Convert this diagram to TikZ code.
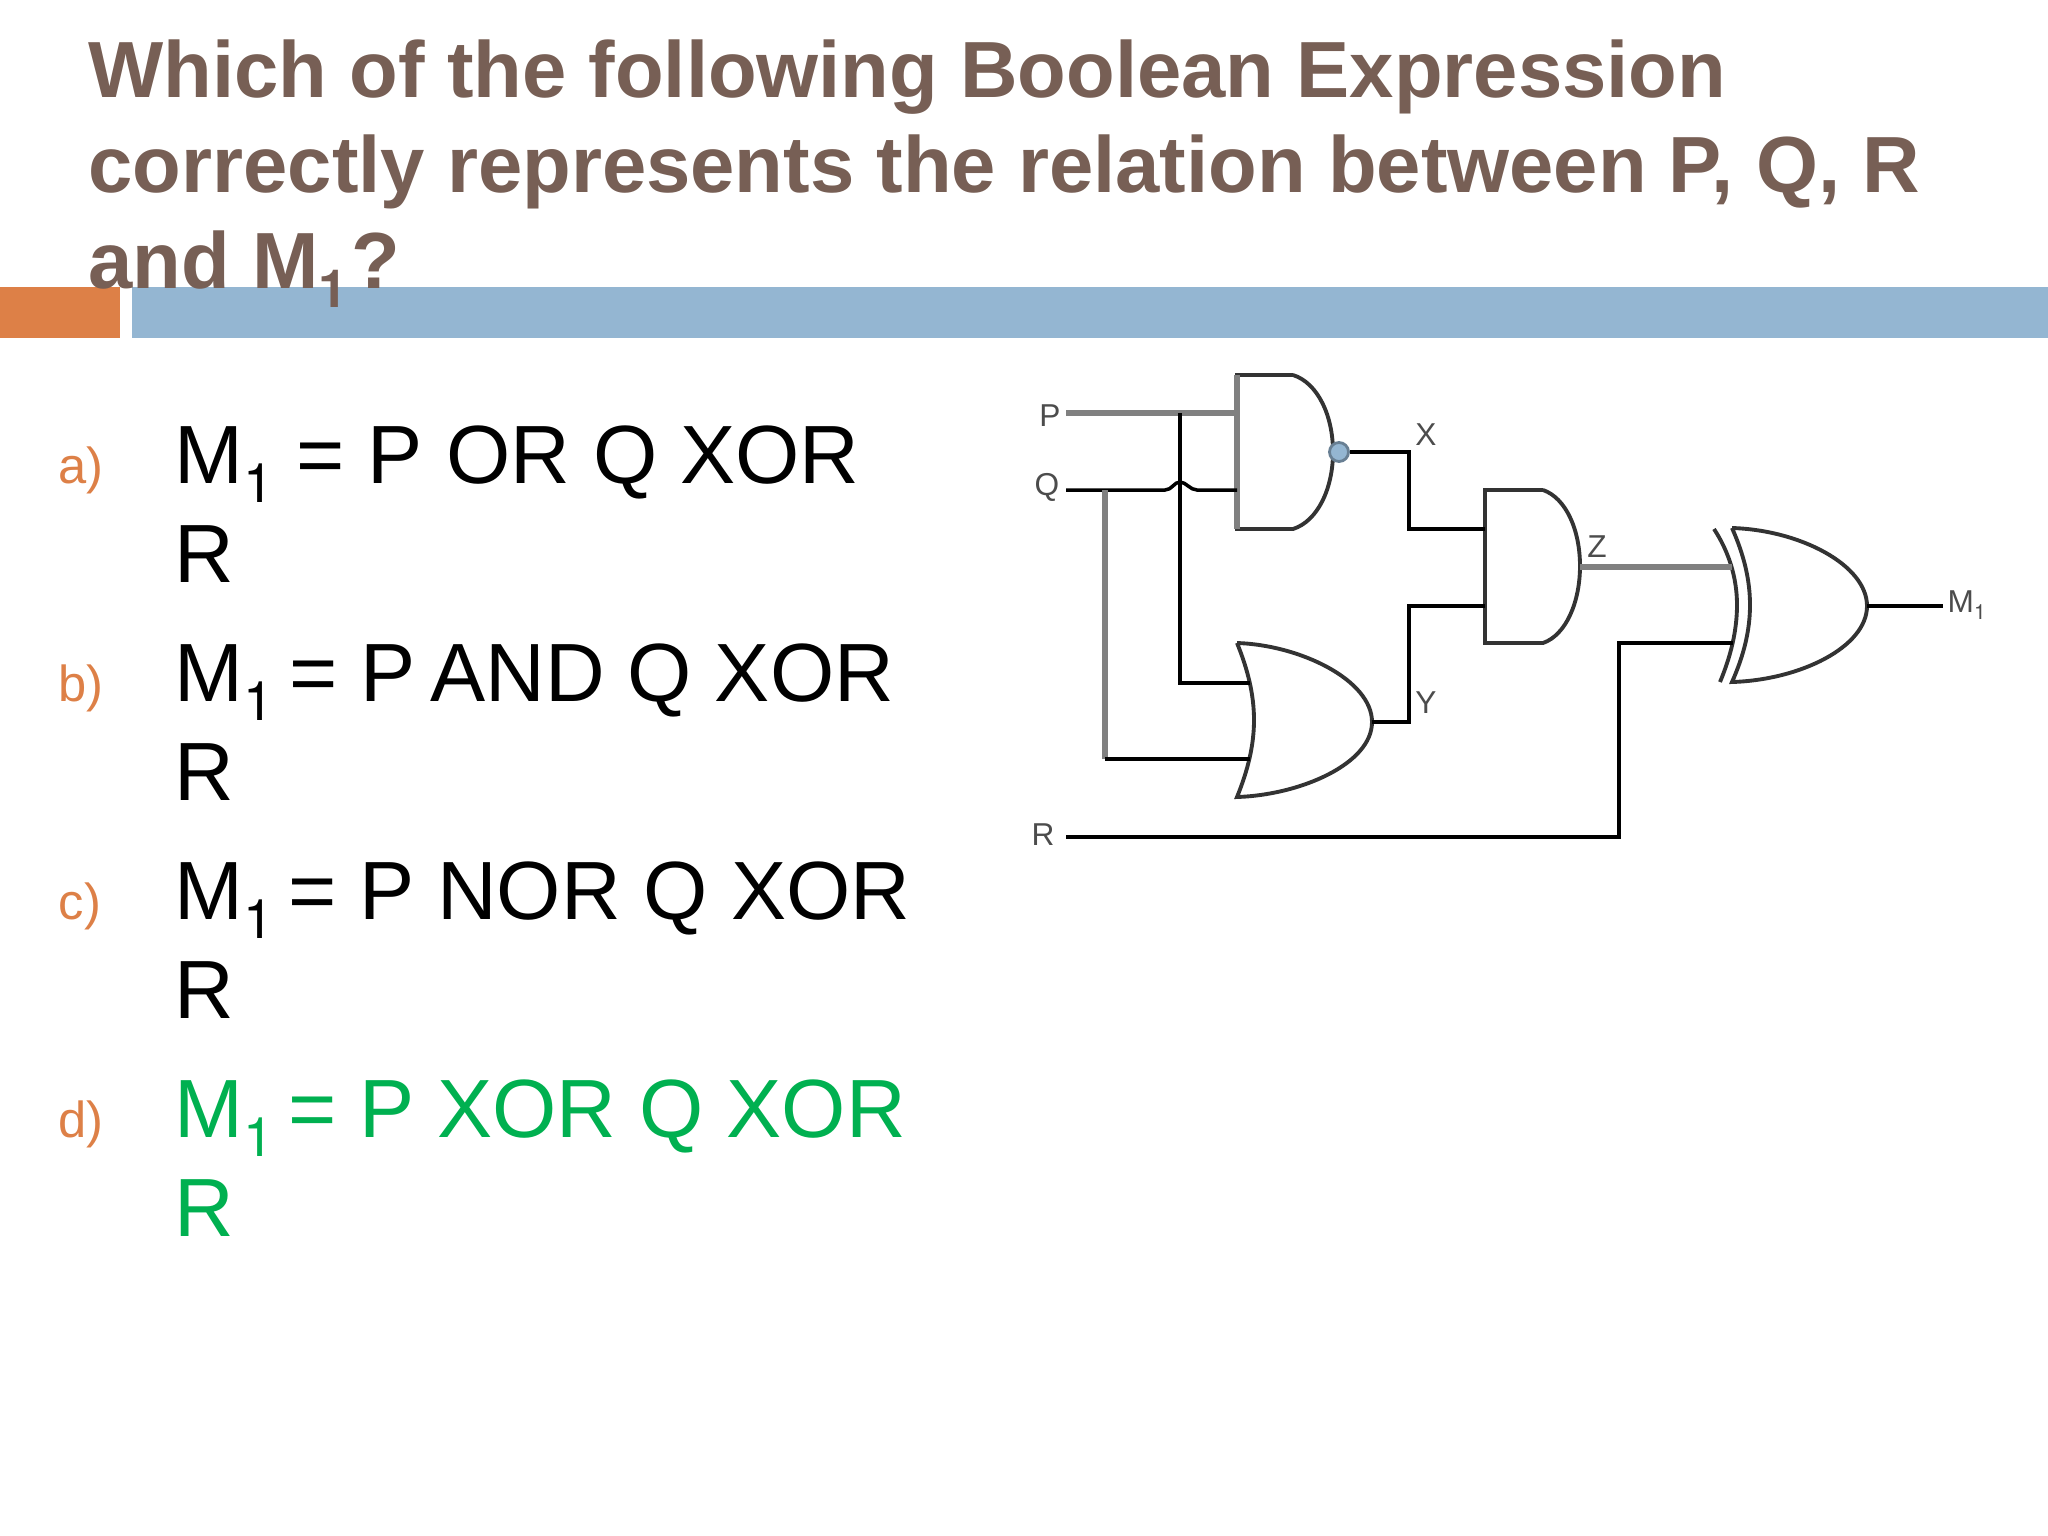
\documentclass[tikz,border=0pt]{standalone}
\usepackage{fontspec}
\setmainfont{Liberation Sans}
\newfontfamily\subfont{TeX Gyre Heros}
\usetikzlibrary{positioning}
\definecolor{titlebrown}{HTML}{775F55}
\definecolor{barorange}{HTML}{DD8047}
\definecolor{barblue}{HTML}{94B6D2}
\definecolor{keygreen}{HTML}{00B050}
\newcommand{\subone}{\raisebox{-0.24em}{\scalebox{0.66}{\subfont 1}}}
\tikzset{
  titletext/.style={font=\fontsize{22.65}{27}\bfseries,text=titlebrown,anchor=base west,inner sep=0pt},
  itemtag/.style={font=\fontsize{14.4}{16}\selectfont,text=barorange,anchor=base west,inner sep=0pt},
  itemtext/.style={font=\fontsize{23.5}{27}\selectfont,text=black,anchor=base west,inner sep=0pt},
  gatelabel/.style={font=\fontsize{9}{10}\selectfont,text=black!70,anchor=center,inner sep=0pt},
  wire/.style={draw=black,line width=1pt},
  greywire/.style={draw=black!50,line width=1.5pt},
  gateline/.style={draw=black!80,line width=1.1pt}
}
\begin{document}
\begin{tikzpicture}[x=0.01cm,y=-0.01cm]
\useasboundingbox (0,0) rectangle (2048,1536);

\fill[barorange] (0,287) rectangle (120,338);
\fill[barblue] (132,287) rectangle (2048,338);
\node[titletext] (title1) at (88,97) {Which of the following Boolean Expression};
\node[titletext] (title2) at (88,192) {correctly represents the relation between P, Q, R};
\node[titletext] (title3) at (88,288) {and M\subone\kern1pt?};

\node[itemtag] (taga) at (58,483) {a)};
\node[itemtext] (ansa1) at (174,483) {M\subone{} = P OR Q XOR};
\node[itemtext] (ansa2) at (174,582) {R};
\node[itemtag] (tagb) at (58,701) {b)};
\node[itemtext] (ansb1) at (174,701) {M\subone\kern-2pt{} = P\kern-2.5pt{} AND Q XOR};
\node[itemtext] (ansb2) at (174,800) {R};
\node[itemtag] (tagc) at (58,919) {c)};
\node[itemtext] (ansc1) at (174,919) {M\subone\kern-2.5pt{} = P NOR Q XOR};
\node[itemtext] (ansc2) at (174,1018) {R};
\node[itemtag] (tagd) at (58,1137) {d)};
\node[itemtext,text=keygreen] (ansd1) at (174,1137) {M\subone\kern-2.5pt{} = P XOR Q XOR};
\node[itemtext,text=keygreen] (ansd2) at (174,1236) {R};

% gates
\draw[gateline] (1293,375) -- (1237,375) -- (1237,529) -- (1293,529) .. controls (1318,521) and (1333,488) .. (1333,452) .. controls (1333,416) and (1318,383) .. (1293,375);
\draw[gateline] (1237,643) .. controls (1300,645) and (1372,680) .. (1372,722) .. controls (1372,764) and (1300,795) .. (1237,797) .. controls (1248,770) and (1254,745) .. (1254,720) .. controls (1254,695) and (1248,670) .. (1237,643);
\draw[gateline] (1543,490) -- (1485,490) -- (1485,643) -- (1543,643) .. controls (1566,635) and (1580,602) .. (1580,566) .. controls (1580,530) and (1566,498) .. (1543,490);
\draw[gateline] (1732,528) .. controls (1800,530) and (1867,565) .. (1867,606) .. controls (1867,647) and (1800,680) .. (1732,682) .. controls (1744,655) and (1750,630) .. (1750,605) .. controls (1750,580) and (1744,555) .. (1732,528);
\draw[gateline] (1714,529) .. controls (1729,552) and (1737,578) .. (1737,605) .. controls (1737,632) and (1730,658) .. (1720,682);
\draw[greywire] (1237,375) -- (1237,529);
\node[circle,draw=barblue!70!black,fill=barblue,line width=0.8pt,minimum size=0.19cm,inner sep=0pt] (bubble) at (1339,452) {};

% pins
\coordinate (pinP) at (1066,413);
\coordinate (pinQ) at (1066,490);
\coordinate (pinR) at (1066,837);
\coordinate (pinM) at (1943,606);
\coordinate (andPin1) at (1237,413);
\coordinate (andPin2) at (1237,490);
\coordinate (orPin1) at (1250,683);
\coordinate (orPin2) at (1250,759);
\coordinate (orOut) at (1372,722);
\coordinate (midPin1) at (1485,529);
\coordinate (midPin2) at (1485,606);
\coordinate (midOut) at (1580,567);
\coordinate (xorPin1) at (1732,567);
\coordinate (xorPin2) at (1733,643);
\coordinate (xorOut) at (1867,606);
\coordinate (tapP) at (1180,413);
\coordinate (tapQ) at (1105,490);
\coordinate (hopA) at (1165,490);
\coordinate (hopB) at (1197,490);
\coordinate (bendX) at (1409,490);
\coordinate (bendY) at (1409,650);
\coordinate (bendR) at (1619,700);

% wires
\draw[greywire] (pinP) -- (andPin1);
\draw[wire] (tapP) |- (orPin1);
\draw[wire] (pinQ) -- (hopA) .. controls (1172,490) and (1174,482) .. (1180,482) .. controls (1186,482) and (1190,490) .. (hopB) -- (andPin2);
\draw[greywire] (tapQ) -- (tapQ |- orPin2);
\draw[wire] (tapQ |- orPin2) -- (orPin2);
\draw[wire] (bubble) -| (bendX) |- (midPin1);
\draw[wire] (orOut) -| (bendY) |- (midPin2);
\draw[greywire] (midOut) -- (xorPin1);
\draw[wire] (pinR) -| (bendR) |- (xorPin2);
\draw[wire] (xorOut) -- (pinM);

\node[gatelabel] (labP) at (1050,416) {P};
\node[gatelabel] (labQ) at (1047,487) {Q};
\node[gatelabel] (labR) at (1043,835) {R};
\node[gatelabel] (labX) at (1426,435) {X};
\node[gatelabel] (labY) at (1426,703) {Y};
\node[gatelabel] (labZ) at (1597,547) {Z};
\node[gatelabel,anchor=base west] (labM) at (1947,612) {M\subone};
\end{tikzpicture}
\end{document}
